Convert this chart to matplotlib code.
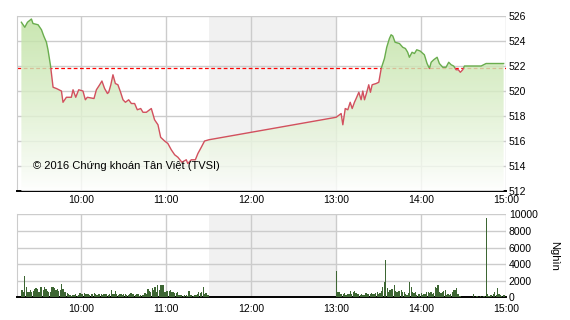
import numpy as np
import matplotlib
matplotlib.use("Agg")
from matplotlib import pyplot as plt
from matplotlib.patches import Rectangle

plt.rcParams['font.family'] = ['Liberation Sans', 'DejaVu Sans']

# gia (phut tinh tu 9:00, diem)
gio = [17.6, 20.0, 21.9, 24.7, 25.8, 29.4, 31.8, 33.4, 35.3, 36.4, 38.1, 40.0, 42.4, 45.9,
       47.0, 49.4, 52.9, 54.1, 56.0, 58.1, 61.1, 62.8, 64.2, 68.9, 70.6, 72.9, 74.5, 76.4,
       78.4, 79.3, 80.8, 82.3, 84.0, 85.8, 87.7, 89.4, 91.1, 93.4, 95.3, 97.6, 99.5, 101.9,
       103.5, 105.9, 108.2, 109.4, 111.7, 114.1, 116.0, 118.8, 121.1, 123.5, 125.9, 128.2,
       131.0, 134.1, 135.2, 137.6, 140.5, 142.3, 144.7, 147.0, 150.0,
       240.0, 243.5, 244.7, 246.4, 248.2, 249.9, 251.3, 252.9, 254.1, 256.0, 257.6, 258.8,
       260.0, 261.6, 263.0, 264.2, 265.4, 268.2, 270.1, 271.8, 274.1, 275.7, 277.6, 278.8,
       280.0, 281.6, 284.7, 287.0, 288.9, 290.5, 291.7, 293.6, 295.3, 296.9, 299.3, 302.3,
       304.2, 305.9, 307.1, 308.9, 311.3, 312.9, 315.3, 317.6, 319.5, 321.2, 323.0, 324.7,
       326.3, 327.7, 329.4, 330.6, 342.4, 345.9, 358.3]
gia = [525.5, 525.1, 525.5, 525.76, 525.4, 525.3, 524.9, 524.4, 523.9, 523.3, 522.1, 520.3,
       520.2, 520.0, 519.1, 519.5, 519.5, 520.1, 519.5, 520.1, 520.0, 519.3, 519.5, 519.4,
       520.1, 520.5, 520.8, 520.2, 519.8, 519.9, 520.5, 521.3, 520.6, 520.5, 519.9, 519.3,
       519.1, 519.3, 519.0, 519.0, 518.5, 518.6, 518.3, 518.3, 518.5, 518.6, 517.7, 517.3,
       516.3, 516.0, 515.8, 515.3, 514.9, 514.7, 514.3, 514.5, 514.2, 514.5, 514.5, 515.0,
       515.5, 516.0, 516.1,
       517.9, 518.2, 517.3, 518.6, 518.5, 519.1, 518.6, 519.1, 519.4, 519.9, 519.3, 520.0,
       519.3, 519.9, 520.5, 519.9, 520.5, 520.6, 520.7, 521.8, 522.6, 523.5, 524.2, 524.5,
       524.4, 523.9, 523.8, 523.5, 523.4, 523.1, 522.7, 523.1, 523.0, 523.3, 523.2, 522.9,
       522.2, 521.8, 522.3, 522.5, 522.7, 522.2, 521.9, 521.9, 522.3, 522.1, 522.0, 521.7,
       521.7, 521.5, 521.7, 522.0, 522.0, 522.2, 522.2]
tham_chieu = 521.83

# khoi luong (nghin), moi phut
kl_sang = [880, 700, 2560, 1200, 650, 700, 900, 600, 750, 1000,
           1100, 1050, 700, 1200, 1250, 900, 1200, 1000, 800, 600,
           700, 1200, 1250, 1100, 900, 1000, 800, 900, 1600, 1000,
           700, 600, 500, 450, 300, 200, 300, 250, 350, 200,
           300, 500, 450, 400, 500, 350, 400, 450, 300, 400,
           350, 500, 400, 300, 450, 400, 350, 300, 400, 350,
           400, 300, 350, 900, 400, 350, 800, 400, 300, 350,
           400, 300, 350, 450, 300, 250, 350, 500, 400, 450,
           300, 450, 350, 200, 300, 250, 300, 500, 450, 1000,
           800, 700, 1100, 850, 1300, 600, 1500, 900, 1450, 1500,
           1500, 700, 800, 750, 800, 850, 600, 700, 550, 500,
           600, 300, 250, 300, 200, 300, 250, 200, 800, 250,
           250, 200, 300, 250, 400, 600, 500, 650, 1200, 450,
           500, 300, 250]
kl_chieu = [3160, 600, 650, 450, 400, 350, 550, 300, 400, 450,
            800, 350, 600, 800, 500, 450, 350, 300, 400, 250,
            300, 550, 400, 350, 400, 500, 450, 400, 500, 600,
            450, 500, 800, 1200, 1880, 4480, 1160, 700, 900, 1000,
            1050, 1450, 800, 700, 750, 800, 850, 650, 700, 400,
            300, 500, 1880, 1200, 700, 500, 600, 300, 400, 350,
            500, 300, 400, 350, 600, 700, 500, 600, 400, 500,
            1200, 1100, 1480, 700, 500, 600, 800, 900, 300, 400,
            300, 350, 700, 900, 850, 1080, 400, 200, 100, 0,
            0, 0, 0, 0, 0, 0, 0, 400, 0, 100,
            150, 0, 100, 0, 150, 200, 9600, 350, 200, 300,
            250, 400, 600, 300, 1080, 350, 250, 200, 300, 250]
phut_sang = np.arange(18, 18 + len(kl_sang))
phut_chieu = np.arange(240, 240 + len(kl_chieu))

nhan_gio = ['10:00', '11:00', '12:00', '13:00', '14:00', '15:00']
vi_tri_gio = [60, 120, 180, 240, 300, 360]

fig = plt.figure(figsize=(5.7, 3.2), dpi=100)
ax = fig.add_axes([0.0298, 0.403, 0.858, 0.547])
ax2 = fig.add_axes([0.0298, 0.0709, 0.858, 0.259])

x = np.array(gio)
y = np.array(gia)

for a in (ax, ax2):
    a.set_xlim(14.5, 360)
    a.axvspan(150, 240, color='#f1f1f1', zorder=0, lw=0)
    a.set_xticks(vi_tri_gio)
    a.set_xticklabels(nhan_gio)
    a.grid(True, color='#cccccc', lw=1)
    a.set_axisbelow(True)
    a.yaxis.tick_right()
    a.tick_params(labelsize=7.5, length=0, colors='black')
    a.tick_params(axis='y', pad=2)
    for s in ('top', 'right'):
        a.spines[s].set_visible(False)
    a.spines['left'].set_color('#cccccc')
    a.spines['bottom'].set_color('black')
    a.spines['bottom'].set_linewidth(1.4)
ax.tick_params(axis='x', pad=3)
ax2.tick_params(axis='x', pad=5)

# bieu do gia
ax.set_ylim(512, 526)
ax.set_yticks(np.arange(512, 527, 2))
ax.axhline(tham_chieu, color='red', ls='--', lw=0.9, dashes=(3, 2), zorder=2)

poly = ax.fill_between(x, y, 512, color='none', lw=0, zorder=3)
grad = np.linspace(1, 0, 256).reshape(-1, 1)
mau_tren = np.array([0.74, 0.88, 0.62])
mau_duoi = np.array([1.0, 1.0, 1.0])
anh = mau_duoi + (mau_tren - mau_duoi) * grad[..., None] ** 0.9
anh = np.concatenate([anh, np.full(anh.shape[:2] + (1,), 0.82)], axis=2)
im = ax.imshow(anh, extent=[14.5, 360, 512, 526], aspect='auto', zorder=3,
               interpolation='bilinear')
im.set_clip_path(poly.get_paths()[0], transform=ax.transData)

l1, = ax.plot(x, y, color='#6aad4e', lw=1.0, zorder=4)
l1.set_clip_path(Rectangle((0, tham_chieu), 400, 20, transform=ax.transData))
l2, = ax.plot(x, y, color='#d2505e', lw=1.0, zorder=4)
l2.set_clip_path(Rectangle((0, 500), 400, tham_chieu - 500, transform=ax.transData))

ax.text(25.5, 513.75, '\u00a9 2016 Ch\u1ee9ng kho\u00e1n T\u00e2n Vi\u1ec7t (TVSI)',
        fontsize=8, zorder=5)

# bieu do khoi luong
ax2.set_ylim(0, 10000)
ax2.set_yticks(np.arange(0, 10001, 2000))
ax2.bar(phut_sang, kl_sang, width=0.85, color='#3d6633', zorder=3)
ax2.bar(phut_chieu, kl_chieu, width=0.85, color='#3d6633', zorder=3)
fig.text(0.972, 0.2, 'Ngh\u00ecn', rotation=270, fontsize=8, ha='center', va='center')

fig.savefig('out.png', dpi=100)
